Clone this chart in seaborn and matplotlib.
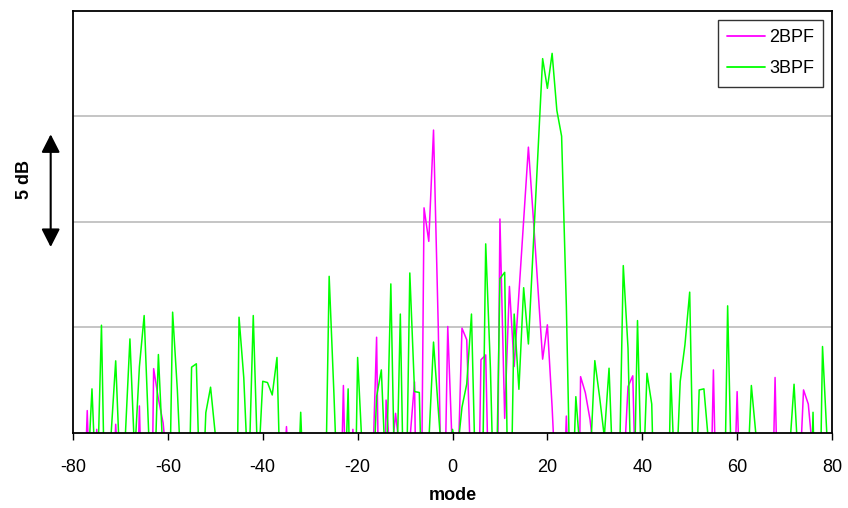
import matplotlib
matplotlib.use("Agg")
import matplotlib.pyplot as plt
import matplotlib.transforms as mtransforms
import pandas as pd
import seaborn as sns

# Mode numbers along the horizontal axis
modes = list(range(-80, 81))

# Tonal levels in dB above the plot floor (values below 0 fall under the axis)
level_2bpf = [
    -5, -5, -6, 1.04, -6, 0.15, -6, -5, -5, 0.39,          # -80 .. -71
    -4, -5, -5, -8, 1.26, -8, -15, 3.03, 1.6, 0.45,        # -70 .. -61
    -2, -5, -5, -5, -5, -5, -5, -5, -5, -5,                # -60 .. -51
    -5, -5, -5, -5, -5, -5, -5, -5, -5, -5,                # -50 .. -41
    -5, -5, -5, -5, -4, 0.28, -4, -5, -5, -5,              # -40 .. -31
    -5, -5, -5, -5, -5, -5, -8, 2.23, -8, 0.15,            # -30 .. -21
    -4, -5, -5, -3, 4.52, -12, 1.54, -1.5, 0.91, -1.2,     # -20 .. -11
    -5, -0.4, 2.4, -15, 10.66, 9.07, 14.35, 5.0, -7.5, 5.03,  # -10 .. -1
    -1.1, -2.9, 4.95, 4.40, -2.9, -10, 3.45, 3.68, -6.8, -15,  # 0 .. 9
    10.13, 0.67, 6.93, 3.13, 6.6, 10.1, 13.54, 10.3, 6.86, 3.48,  # 10 .. 19
    5.11, 1.2, -3.6, -6, 0.78, -6, -15, 2.65, 1.89, 0.6,   # 20 .. 29
    -1.4, -5, -5, -5, -5, -5, -2.2, 2.18, 2.69, -6.3,      # 30 .. 39
    -5, -5, -5, -5, -5, -5, -5, -5, -5, -5,                # 40 .. 49
    -5, -5, -5, -5, -8, 2.97, -8, -5, -5, -6,              # 50 .. 59
    1.94, -6, -5, -5, -5, -5, -5, -8, 2.61, -8,            # 60 .. 69
    -5, -5, -5, -3, 2.02, 1.35, -1.1, -5, -5, -5,          # 70 .. 79
    -5,                                                    # 80
]

level_3bpf = [
    -5, -5, -5, -2.5, 2.07, -3.5, 5.09, -7, -0.2, 3.40,    # -80 .. -71
    -2.3, -0.3, 4.44, -1.1, 3.13, 5.55, -0.3, -3.7, 3.70, -1.2,  # -70 .. -61
    -8, 5.71, 2.0, -3, -8, 3.10, 3.26, -4.9, 0.94, 2.15,   # -60 .. -51
    -0.1, -5, -5, -5, -15, 5.47, 2.6, -2.6, 5.55, -2,      # -50 .. -41
    2.43, 2.37, 1.78, 3.56, -5.3, -5, -5, -5, 0.96, -5,    # -40 .. -31
    -5, -5, -5, -6.1, 7.41, 1.86, -4.3, -5, 2.07, -10,     # -30 .. -21
    3.56, -1.0, -5, -4, 1.7, 2.97, -2.4, 7.05, -4.7, 5.62, # -20 .. -11
    -6.9, 7.57, 1.94, 1.9, -6.7, -0.5, 4.29, 1.1, -2.0, -3,  # -10 .. -1
    0.15, -1.0, 1.2, 2.3, 5.62, -3.7, -8, 8.95, 3.0, -6,   # 0 .. 9
    7.3, 7.6, -8, 5.62, 2.05, 6.87, 4.2, 8.7, 13.2, 17.74, # 10 .. 19
    16.33, 17.99, 15.28, 14.06, 6.0, -5, 1.70, -1.2, -3, -1.5,  # 20 .. 29
    3.41, 1.7, -0.2, 3.05, -3.05, -4, 7.92, 4.0, -6, 5.31, # 30 .. 39
    -3.5, 2.81, 1.35, -8, -5, -10, 2.81, -3, 2.42, 4.16,   # 40 .. 49
    6.66, -5, 2.02, 2.07, -0.55, -4, -4, -8, 6.01, -4,     # 50 .. 59
    -5, -5, -3, 2.23, -0.2, -5, -5, -5, -5, -5,            # 60 .. 69
    -5, -1, 2.29, -1.9, -4, -8, 0.96, -10, 4.08, -0.5,     # 70 .. 79
    -3,                                                    # 80
]

series_names = ["2BPF", "3BPF"]
series_colors = ["#FF00FF", "#00FF00"]
x_ticks = [-80, -60, -40, -20, 0, 20, 40, 60, 80]
grid_levels = [5, 10, 15]
scale_bar = (8.8, 14.15)   # span of the 5 dB marker, in dB

df = pd.DataFrame({
    "mode": modes + modes,
    "level": level_2bpf + level_3bpf,
    "series": [series_names[0]] * len(modes) + [series_names[1]] * len(modes),
})

sns.set_theme(style="white")
plt.rcParams["font.family"] = ["Liberation Sans", "DejaVu Sans"]
plt.rcParams["text.color"] = "black"
plt.rcParams["axes.labelcolor"] = "black"
plt.rcParams["xtick.color"] = "black"

W, H = 848, 508
fig = plt.figure(figsize=(W / 100, H / 100), dpi=100)
ax = fig.add_axes([73 / W, 1 - 432.5 / H, 759 / W, 421.5 / H])

sns.lineplot(
    data=df, x="mode", y="level", hue="series",
    palette=dict(zip(series_names, series_colors)),
    estimator=None, linewidth=1.1, ax=ax, zorder=3,
)

ax.set_xlim(-80, 80)
ax.set_ylim(0, 20)
for g in grid_levels:
    ax.axhline(g, color="#c0c0c0", linewidth=1.3, zorder=1)

ax.set_yticks([])
ax.set_xticks(x_ticks)
ax.set_xticklabels([str(t) for t in x_ticks])
ax.tick_params(axis="x", bottom=True, direction="out", length=5, width=1.0,
               color="black", pad=14, labelsize=13, labelcolor="black")
for side in ["left", "right", "top", "bottom"]:
    ax.spines[side].set_visible(True)
    ax.spines[side].set_color("black")
    ax.spines[side].set_linewidth(1.3)
    ax.spines[side].set_zorder(5)

ax.set_xlabel("mode", fontsize=13, fontweight="bold", color="black", labelpad=8)
ax.set_ylabel("")

handles, labels = ax.get_legend_handles_labels()
leg = ax.legend(handles, labels, loc="upper right",
                bbox_to_anchor=(0.9886, 0.9786), frameon=True, fancybox=False,
                edgecolor="black", fontsize=13, handlelength=2.1,
                handletextpad=0.25, labelspacing=0.8, borderpad=0.5,
                borderaxespad=0, labelcolor="black")
leg.get_frame().set_linewidth(1.0)
leg.get_frame().set_facecolor("white")
for line in leg.get_lines():
    line.set_linewidth(1.3)

# 5 dB scale marker left of the axis
trans = mtransforms.blended_transform_factory(ax.transAxes, ax.transData)
ax.annotate("", xy=(-0.0294, scale_bar[0]), xytext=(-0.0294, scale_bar[1]),
            xycoords=trans, textcoords=trans, annotation_clip=False,
            arrowprops=dict(arrowstyle="<|-|>,head_length=0.55,head_width=0.28",
                            color="black", lw=1.5, mutation_scale=20,
                            shrinkA=0, shrinkB=0))
ax.text(-0.064, 12.0, "5 dB", transform=trans, rotation=90, ha="center",
        va="center", fontsize=13, fontweight="bold", color="black")

fig.savefig("out.png", dpi=100)
